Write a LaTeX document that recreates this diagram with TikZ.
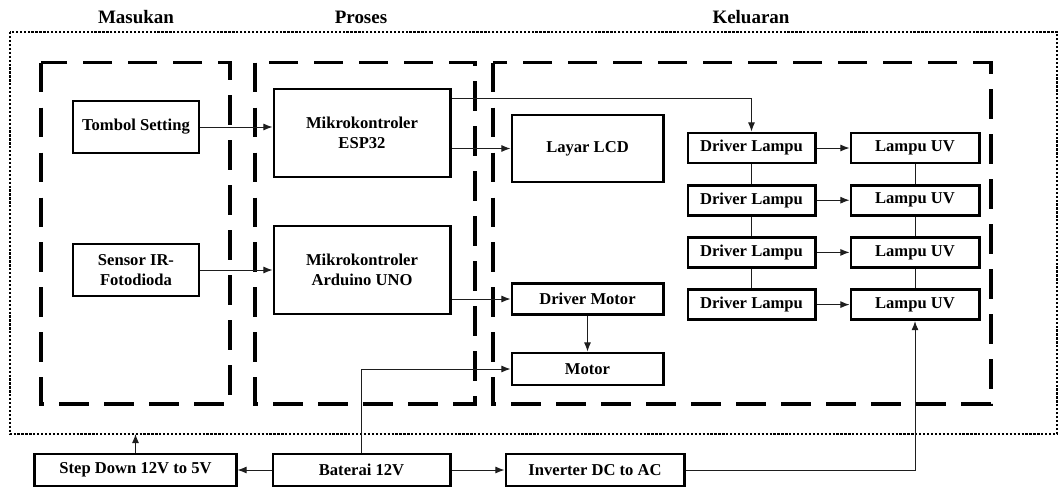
\documentclass[tikz,border=0pt]{standalone}
\usepackage{fontspec}
\setmainfont{Liberation Serif}
\usepackage{tikz}
\usetikzlibrary{arrows.meta}
\definecolor{linie}{HTML}{1E1E1E}
\tikzset{
  blok/.style={draw,line width=2.1pt,inner sep=0pt,align=center,font=\bfseries\fontsize{11.8}{13.8}\selectfont},
  judul/.style={font=\bfseries\fontsize{13.5}{15}\selectfont},
  grup/.style={line width=2.8pt,dash pattern=on 21pt off 11pt},
  bingkai/.style={line width=1pt,dash pattern=on 1.6pt off 1.2pt},
  panah/.style={-{Latex[length=6.5pt,width=5pt]},linie,line width=0.7pt},
  sambung/.style={linie,line width=0.7pt},
}
\begin{document}
\begin{tikzpicture}[x=0.025cm,y=-0.025cm]
  \useasboundingbox (0,0) rectangle (1060,488);
  \node[judul] (tmasuk) at (136,17) {Masukan};
  \node[judul] (tproses) at (361,17) {Proses};
  \node[judul] (tkeluar) at (751,17) {Keluaran};
  \coordinate (bka) at (10,32);
  \coordinate (bkb) at (1057,434);
  \draw[bingkai] (bka) rectangle (bkb);
  \draw[grup] (41,62.5) rectangle (230,404);
  \draw[grup] (255,62.5) rectangle (475,404);
  \draw[grup] (493,62.5) rectangle (991,404);
  \node[blok,minimum width=3.15cm,minimum height=1.3cm] (tombol) at (136,127) {Tombol Setting};
  \node[blok,minimum width=3.15cm,minimum height=1.3cm] (sensor) at (136,270) {Sensor IR-\\Fotodioda};
  \node[blok,minimum width=4.4cm,minimum height=2.2cm] (esp) at (362,133) {Mikrokontroler\\ESP32};
  \node[blok,minimum width=4.4cm,minimum height=2.2cm] (uno) at (362,270) {Mikrokontroler\\Arduino UNO};
  \node[blok,minimum width=3.775cm,minimum height=1.675cm] (lcd) at (587.5,148.5) {Layar LCD};
  \node[blok,minimum width=3.775cm,minimum height=0.775cm] (drvmotor) at (587.5,299) {Driver Motor};
  \node[blok,minimum width=3.775cm,minimum height=0.8cm] (motor) at (587.5,369) {Motor};
  \node[blok,minimum width=3.175cm,minimum height=0.75cm] (drv1) at (751.5,148) {Driver Lampu};
  \node[blok,minimum width=3.175cm,minimum height=0.75cm] (drv2) at (751.5,200.2) {Driver Lampu};
  \node[blok,minimum width=3.175cm,minimum height=0.75cm] (drv3) at (751.5,252.4) {Driver Lampu};
  \node[blok,minimum width=3.175cm,minimum height=0.75cm] (drv4) at (751.5,304.6) {Driver Lampu};
  \node[blok,minimum width=3.2cm,minimum height=0.75cm] (uv1) at (915,148) {Lampu UV};
  \node[blok,minimum width=3.2cm,minimum height=0.75cm] (uv2) at (915,200.2) {Lampu UV};
  \node[blok,minimum width=3.2cm,minimum height=0.75cm] (uv3) at (915,252.4) {Lampu UV};
  \node[blok,minimum width=3.2cm,minimum height=0.75cm] (uv4) at (915,304.6) {Lampu UV};
  \node[blok,minimum width=5.025cm,minimum height=0.8cm] (stepdown) at (135.5,470) {Step Down 12V to 5V};
  \node[blok,minimum width=4.425cm,minimum height=0.8cm] (baterai) at (361.5,470) {Baterai 12V};
  \node[blok,minimum width=4.45cm,minimum height=0.8cm] (inverter) at (595,470) {Inverter DC to AC};
  \draw[panah] (tombol.east) -- (tombol.east -| esp.west);
  \draw[panah] (sensor.east) -- (sensor.east -| uno.west);
  \draw[panah] ([yshift=-0.275cm]esp.north east) -| (drv1.north);
  \draw[panah] (esp.east |- lcd.west) -- (lcd.west);
  \draw[panah] (uno.east |- drvmotor.west) -- (drvmotor.west);
  \draw[panah] (drvmotor.south) -- (motor.north);
  \draw[panah] (baterai.north) |- (motor.west);
  \draw[panah] (baterai.west) -- (stepdown.east);
  \draw[panah] (baterai.east) -- (inverter.west);
  \draw[panah] (inverter.east) -| (uv4.south);
  \draw[panah] (stepdown.north) -- (stepdown.north |- bkb);
  \draw[panah] (drv1.east) -- (uv1.west);
  \draw[panah] (drv2.east) -- (uv2.west);
  \draw[panah] (drv3.east) -- (uv3.west);
  \draw[panah] (drv4.east) -- (uv4.west);
  \draw[sambung] (drv1.south) -- (drv2.north);
  \draw[sambung] (drv2.south) -- (drv3.north);
  \draw[sambung] (drv3.south) -- (drv4.north);
  \draw[sambung] (uv1.south) -- (uv2.north);
  \draw[sambung] (uv2.south) -- (uv3.north);
  \draw[sambung] (uv3.south) -- (uv4.north);
\end{tikzpicture}
\end{document}
